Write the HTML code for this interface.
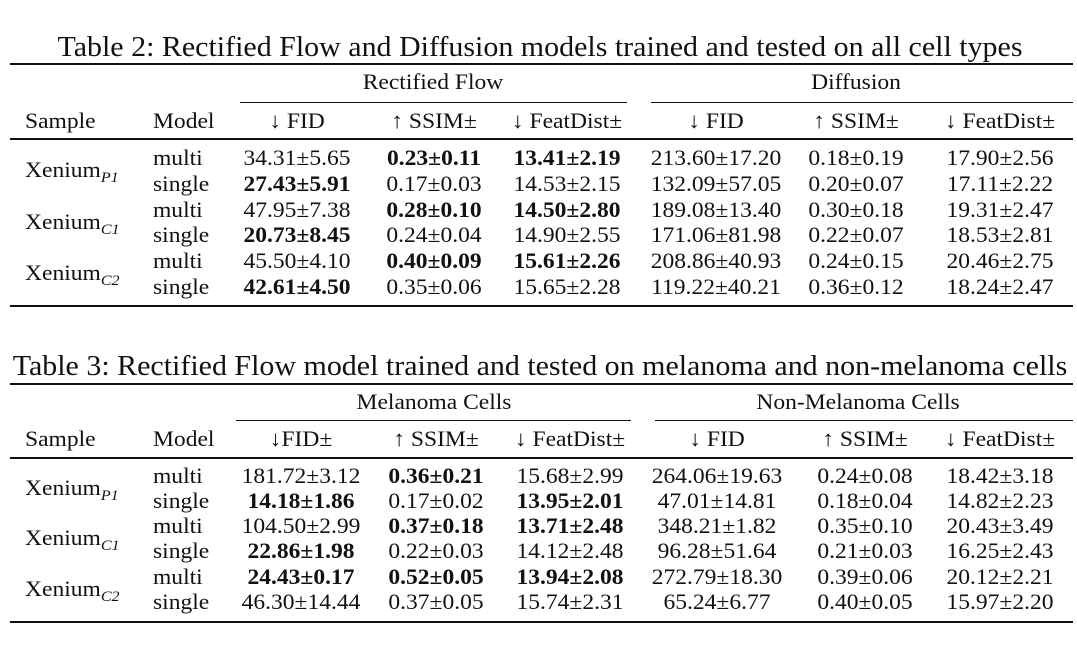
<!DOCTYPE html>
<html><head><meta charset="utf-8"><style>
body{margin:0;width:1077px;height:651px;background:#fff;position:relative;overflow:hidden;font-family:"Liberation Serif",serif;color:#111}
.t{position:absolute;font-size:22px;line-height:24px;white-space:nowrap;transform:scaleX(1.07);transform-origin:0 50%}
.c{transform:translateX(-50%) scaleX(1.07);transform-origin:50% 50%}
.r{position:absolute;background:#111}
b{font-weight:bold}
sub{font-size:15px;font-style:italic;vertical-align:-5px;line-height:0}
.cap{position:absolute;font-size:28px;line-height:30px;white-space:nowrap;transform:translateX(-50%) scaleX(1.07)}
</style></head><body>
<div id="root"></div>
<script>
const root=document.getElementById('root');
function add(html,cls,x,y,name){const d=document.createElement('div');d.className=cls;d.style.left=x+'px';d.style.top=(y-12)+'px';d.innerHTML=html;


root.appendChild(d);}
function rule(x1,x2,y,h,name){const d=document.createElement('div');d.className='r';d.style.left=x1+'px';d.style.width=(x2-x1)+'px';d.style.top=y+'px';d.style.height=h+'px';


root.appendChild(d);}
const T=[
{cap:"Table 2: Rectified Flow and Diffusion models trained and tested on all cell types",capY:48,top:63,grpY:82,cmid:102,hdrY:121,mid:138,rows:[158,184,210,235,261,287],bot:305,
groups:[["Rectified Flow",433,240,627],["Diffusion",856,651,1073]],
hdrs:["↓ FID","↑ SSIM±","↓ FeatDist±","↓ FID","↑ SSIM±","↓ FeatDist±"],cx:[297,434,567,716,856,1000],
data:[
["","34.31±5.65","<b>0.23±0.11</b>","<b>13.41±2.19</b>","213.60±17.20","0.18±0.19","17.90±2.56"],
["","<b>27.43±5.91</b>","0.17±0.03","14.53±2.15","132.09±57.05","0.20±0.07","17.11±2.22"],
["","47.95±7.38","<b>0.28±0.10</b>","<b>14.50±2.80</b>","189.08±13.40","0.30±0.18","19.31±2.47"],
["","<b>20.73±8.45</b>","0.24±0.04","14.90±2.55","171.06±81.98","0.22±0.07","18.53±2.81"],
["","45.50±4.10","<b>0.40±0.09</b>","<b>15.61±2.26</b>","208.86±40.93","0.24±0.15","20.46±2.75"],
["","<b>42.61±4.50</b>","0.35±0.06","15.65±2.28","119.22±40.21","0.36±0.12","18.24±2.47"]]},
{cap:"Table 3: Rectified Flow model trained and tested on melanoma and non-melanoma cells",capY:367,top:383,grpY:402,cmid:420,hdrY:439,mid:457,rows:[476,501,526,551,577,602],bot:621,
groups:[["Melanoma Cells",434,236,631],["Non-Melanoma Cells",858,655,1073]],
hdrs:["↓FID±","↑ SSIM±","↓ FeatDist±","↓ FID","↑ SSIM±","↓ FeatDist±"],cx:[301,436,570,717,865,1000],
data:[
["","181.72±3.12","<b>0.36±0.21</b>","15.68±2.99","264.06±19.63","0.24±0.08","18.42±3.18"],
["","<b>14.18±1.86</b>","0.17±0.02","<b>13.95±2.01</b>","47.01±14.81","0.18±0.04","14.82±2.23"],
["","104.50±2.99","<b>0.37±0.18</b>","<b>13.71±2.48</b>","348.21±1.82","0.35±0.10","20.43±3.49"],
["","<b>22.86±1.98</b>","0.22±0.03","14.12±2.48","96.28±51.64","0.21±0.03","16.25±2.43"],
["","<b>24.43±0.17</b>","<b>0.52±0.05</b>","<b>13.94±2.08</b>","272.79±18.30","0.39±0.06","20.12±2.21"],
["","46.30±14.44","0.37±0.05","15.74±2.31","65.24±6.77","0.40±0.05","15.97±2.20"]]}];
const samples=["P1","C1","C2"], models=["multi","single"];
T.forEach((t,ti)=>{
  const cap=document.createElement('div');cap.className='cap';cap.style.left='540px';cap.style.top=(t.capY-15)+'px';cap.textContent=t.cap;
  
  
  root.appendChild(cap);
  rule(10,1073,t.top,2,'top-rule');
  t.groups.forEach(g=>{add(g[0],'t c',g[1],t.grpY,'group-header');rule(g[2],g[3],t.cmid,1,'group-rule');});
  add('Sample','t',25,t.hdrY,'sample-header');
  add('Model','t',153,t.hdrY,'model-header');
  t.hdrs.forEach((h,i)=>add(h,'t c',t.cx[i],t.hdrY,'metric-header'));
  rule(10,1073,t.mid,1.5,'mid-rule');
  t.rows.forEach((y,ri)=>{
    add(models[ri%2],'t',153,y,'model-name');
    t.data[ri].slice(1).forEach((v,ci)=>add(v,'t c',t.cx[ci],y,'cell-value'));
    if(ri%2==0){const ym=(y+t.rows[ri+1])/2;add('Xenium<sub>'+samples[ri/2]+'</sub>','t',25,ym-1,'sample-name');}
  });
  rule(10,1073,t.bot,2,'bottom-rule');
});
</script>
</body></html>
